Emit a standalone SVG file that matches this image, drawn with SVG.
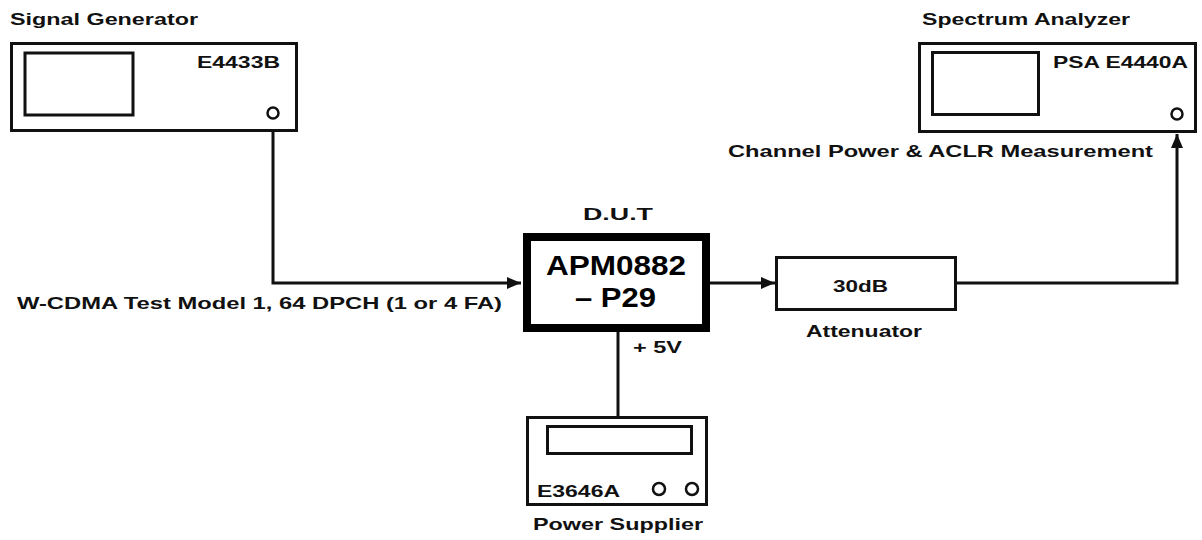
<svg xmlns="http://www.w3.org/2000/svg" width="1202" height="540" viewBox="0 0 1202 540">
<style>
.t{font-family:"Liberation Sans",Arial,sans-serif;font-weight:bold;font-size:17px;fill:#111}
.big{font-size:27px;fill:#000}
.box{fill:#fff;stroke:#111;stroke-width:3}
.scr{fill:#fff;stroke:#111;stroke-width:3}
.port{fill:#fff;stroke:#111;stroke-width:2.5}
.wire{fill:none;stroke:#111;stroke-width:3}
</style>
<defs>
<marker id="ah" viewBox="0 0 14 12" refX="14" refY="6" markerWidth="14" markerHeight="12" markerUnits="userSpaceOnUse" orient="auto">
<path d="M0,0 L14,6 L0,12 Z" fill="#111"/>
</marker>
</defs>
<rect width="1202" height="540" fill="#fff"/>
<g id="connectors">
<path class="wire" d="M273,119 V283 H521" marker-end="url(#ah)"/>
<path class="wire" d="M710,283 H775" marker-end="url(#ah)"/>
<path class="wire" d="M956,283 H1177 V134" marker-end="url(#ah)"/>
<path class="wire" d="M618,332 V417"/>
</g>
<g id="signal-generator">
<text class="t" x="10" y="25" textLength="188" lengthAdjust="spacingAndGlyphs">Signal Generator</text>
<rect class="box" x="11.5" y="43.5" width="285" height="87"/>
<rect class="scr" x="25" y="53" width="108" height="62"/>
<text class="t" x="197" y="68" textLength="83" lengthAdjust="spacingAndGlyphs">E4433B</text>
<circle class="port" cx="273" cy="113" r="5.5"/>
</g>
<g id="spectrum-analyzer">
<text class="t" x="922" y="25" textLength="208" lengthAdjust="spacingAndGlyphs">Spectrum Analyzer</text>
<rect class="box" x="919.5" y="43.5" width="276" height="88"/>
<rect class="scr" x="932.5" y="52.5" width="106" height="62"/>
<text class="t" x="1053" y="68" textLength="135" lengthAdjust="spacingAndGlyphs">PSA E4440A</text>
<circle class="port" cx="1177" cy="114" r="5.5"/>
<text class="t" x="728" y="157" textLength="425" lengthAdjust="spacingAndGlyphs">Channel Power &amp; ACLR Measurement</text>
</g>
<g id="dut">
<text class="t" x="583" y="220" textLength="70" lengthAdjust="spacingAndGlyphs">D.U.T</text>
<rect x="527" y="237" width="179" height="91" fill="#fff" stroke="#000" stroke-width="8"/>
<text class="t big" x="546" y="275" textLength="140" lengthAdjust="spacingAndGlyphs">APM0882</text>
<text class="t big" x="575" y="307" textLength="81" lengthAdjust="spacingAndGlyphs">– P29</text>
</g>
<g id="input-label">
<text class="t" x="17" y="309" textLength="485" lengthAdjust="spacingAndGlyphs">W-CDMA Test Model 1, 64 DPCH (1 or 4 FA)</text>
</g>
<g id="attenuator">
<rect class="box" x="776.5" y="257.5" width="179" height="52"/>
<text class="t" x="833" y="292" textLength="55" lengthAdjust="spacingAndGlyphs">30dB</text>
<text class="t" x="806" y="337" textLength="116" lengthAdjust="spacingAndGlyphs">Attenuator</text>
</g>
<g id="power-supply">
<text class="t" x="633" y="353" textLength="49" lengthAdjust="spacingAndGlyphs">+ 5V</text>
<rect class="box" x="527.5" y="417.5" width="179" height="87"/>
<rect class="scr" x="547.5" y="426.5" width="144" height="27"/>
<text class="t" x="537" y="497" textLength="83" lengthAdjust="spacingAndGlyphs">E3646A</text>
<circle class="port" cx="659" cy="489" r="6"/>
<circle class="port" cx="692" cy="489" r="6"/>
<text class="t" x="533" y="530" textLength="170" lengthAdjust="spacingAndGlyphs">Power Supplier</text>
</g>
</svg>
